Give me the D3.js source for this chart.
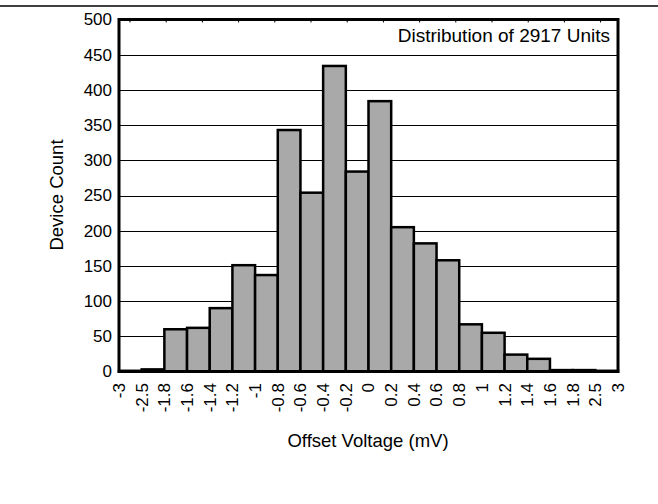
<!DOCTYPE html>
<html><head><meta charset="utf-8">
<script src="https://cdn.jsdelivr.net/npm/d3@7"></script>
<style>body{margin:0;background:#fff}svg{display:block;font-family:"Liberation Sans",Arial,sans-serif}</style>
</head><body><svg width="658" height="504"></svg>
<script>
const binEdges = ["-3","-2.5","-1.8","-1.6","-1.4","-1.2","-1","-0.8","-0.6","-0.4","-0.2","0","0.2","0.4","0.6","0.8","1","1.2","1.4","1.6","1.8","2.5","3"];
const counts = [1,3,60,62,90,151,137,343,254,434,284,384,205,182,158,67,55,24,18,2,2,1];
const yTicks = [0,50,100,150,200,250,300,350,400,450,500];
const title = "Distribution of 2917 Units";
const xTitle = "Offset Voltage (mV)";
const yTitle = "Device Count";

const svg = d3.select("svg");
const L = 119, R = 618, T = 19.5, B = 371.5;
const x = d3.scaleLinear().domain([0, binEdges.length - 1]).range([L, R]);
const y = d3.scaleLinear().domain([0, 500]).range([B, T]);
const fs = "17px";
const tfs = "18.5px";

// top rule
svg.append("line").attr("x1",0).attr("x2",658).attr("y1",6).attr("y2",6)
  .attr("stroke","#000").attr("stroke-width",1.5);

// gridlines
svg.append("g").selectAll("line").data(yTicks.filter(d => d > 0 && d < 500)).join("line")
  .attr("x1", L).attr("x2", R)
  .attr("y1", d => Math.round(y(d)) + 0.5).attr("y2", d => Math.round(y(d)) + 0.5)
  .attr("stroke", "#000").attr("stroke-width", 1);

// bars
svg.append("g").selectAll("rect").data(counts).join("rect")
  .attr("x", (d, i) => x(i))
  .attr("width", (d, i) => x(i + 1) - x(i))
  .attr("y", d => y(d))
  .attr("height", d => B - y(d))
  .attr("fill", "#a9a9a9")
  .attr("stroke", "#000").attr("stroke-width", 2.5);

// frame
svg.append("rect").attr("x", L).attr("y", T).attr("width", R - L).attr("height", B - T)
  .attr("fill", "none").attr("stroke", "#000").attr("stroke-width", 3);

// top minor ticks
const topTick = d3.scaleLinear().domain([0, 13]).range([130, 600.6]);
svg.append("g").selectAll("line").data(d3.range(14)).join("line")
  .attr("x1", d => topTick(d)).attr("x2", d => topTick(d))
  .attr("y1", T).attr("y2", T + 3)
  .attr("stroke", "#000").attr("stroke-width", 1);

// y tick labels
svg.append("g").selectAll("text").data(yTicks).join("text")
  .attr("x", 112).attr("y", d => y(d)).attr("dy", "0.35em")
  .attr("text-anchor", "end").attr("font-size", fs).text(d => d);

// x tick labels
svg.append("g").selectAll("text").data(binEdges).join("text")
  .attr("transform", (d, i) => `translate(${x(i)},383) rotate(-90)`)
  .attr("dy", "0.35em").attr("text-anchor", "end").attr("font-size", fs).text(d => d);

// titles
svg.append("text").attr("x", 368).attr("y", 447).attr("text-anchor", "middle")
  .attr("font-size", tfs).text(xTitle);
svg.append("text").attr("transform", "translate(63,195) rotate(-90)")
  .attr("text-anchor", "middle").attr("font-size", tfs).text(yTitle);
svg.append("text").attr("x", 610).attr("y", 41.5).attr("text-anchor", "end")
  .attr("font-size", "19px").text(title);
</script></body></html>
